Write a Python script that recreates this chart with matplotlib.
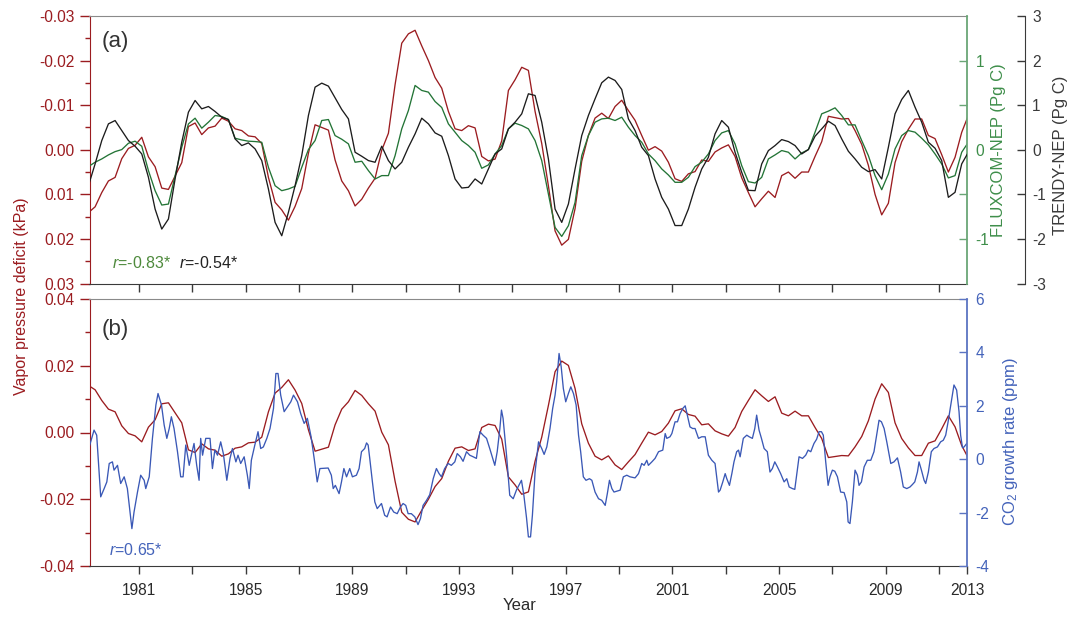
import numpy as np
import matplotlib
matplotlib.use('Agg')
import matplotlib.pyplot as plt
from matplotlib.ticker import FixedLocator, FuncFormatter

REG = 'Liberation Sans'
plt.rcParams['font.family'] = [REG, 'DejaVu Sans']
plt.rcParams['axes.unicode_minus'] = False
plt.rcParams['mathtext.fontset'] = 'custom'
plt.rcParams['mathtext.it'] = REG + ':italic'
plt.rcParams['mathtext.rm'] = REG

# ---------------- data ----------------
# quarterly time grid (decimal year)
years_q = np.round(1979.1 + 0.25 * np.arange(133), 3)

# Vapor pressure deficit anomaly (kPa)
vpd = [0.0141, 0.0128, 0.0096, 0.0070, 0.0062, 0.0020, -0.0003, -0.0010, -0.0028, 0.0016,
       0.0038, 0.0086, 0.0089, 0.0059, 0.0029, -0.0052, -0.0060, -0.0034, -0.0049, -0.0053,
       -0.0071, -0.0064, -0.0047, -0.0043, -0.0031, -0.0029, -0.0014, 0.0062, 0.0118, 0.0135,
       0.0158, 0.0127, 0.0087, 0.0008, -0.0056, -0.0050, -0.0044, 0.0023, 0.0070, 0.0092,
       0.0126, 0.0111, 0.0086, 0.0064, 0.0001, -0.0037, -0.0146, -0.0239, -0.0260, -0.0268,
       -0.0233, -0.0200, -0.0162, -0.0138, -0.0086, -0.0047, -0.0043, -0.0054, -0.0049, 0.0015,
       0.0025, 0.0021, -0.0020, -0.0133, -0.0157, -0.0185, -0.0178, -0.0086, -0.0014, 0.0081,
       0.0182, 0.0214, 0.0201, 0.0132, 0.0026, -0.0032, -0.0071, -0.0082, -0.0070, -0.0097,
       -0.0111, -0.0088, -0.0066, -0.0032, 0.0001, -0.0007, 0.0003, 0.0028, 0.0065, 0.0071,
       0.0054, 0.0049, 0.0023, 0.0026, 0.0005, -0.0004, -0.0011, 0.0015, 0.0063, 0.0096,
       0.0128, 0.0110, 0.0093, 0.0107, 0.0058, 0.0050, 0.0064, 0.0050, 0.0050, 0.0015,
       -0.0018, -0.0075, -0.0072, -0.0069, -0.0070, -0.0043, -0.0012, 0.0035, 0.0100, 0.0146,
       0.0120, 0.0029, -0.0018, -0.0046, -0.0069, -0.0069, -0.0032, -0.0025, 0.0011, 0.0050,
       0.0017, -0.0039, -0.0077]

# FLUXCOM-NEP anomaly (Pg C)
fluxcom = [-0.189, -0.140, -0.103, -0.058, -0.021, 0.002, 0.073, 0.096, 0.039, -0.234,
           -0.459, -0.620, -0.609, -0.290, 0.028, 0.290, 0.354, 0.242, 0.309, 0.384,
           0.373, 0.339, 0.129, 0.110, 0.096, 0.092, 0.084, -0.197, -0.403, -0.459,
           -0.440, -0.410, -0.197, 0.002, 0.103, 0.328, 0.339, 0.159, 0.118, 0.066,
           -0.140, -0.129, -0.234, -0.328, -0.290, -0.290, -0.066, 0.234, 0.440, 0.721,
           0.665, 0.646, 0.541, 0.474, 0.290, 0.197, 0.103, 0.047, -0.028, -0.208,
           -0.170, -0.047, 0.047, 0.234, 0.298, 0.272, 0.234, 0.103, -0.122, -0.496,
           -0.871, -0.972, -0.852, -0.590, -0.066, 0.159, 0.309, 0.346, 0.354, 0.328,
           0.365, 0.253, 0.159, 0.084, -0.047, -0.122, -0.215, -0.283, -0.365, -0.365,
           -0.309, -0.189, -0.140, -0.047, 0.103, 0.189, 0.215, 0.066, -0.178, -0.358,
           -0.373, -0.309, -0.103, -0.058, -0.009, -0.028, -0.103, -0.036, 0.002, 0.197,
           0.403, 0.433, 0.470, 0.384, 0.279, 0.279, 0.103, -0.066, -0.290, -0.448,
           -0.272, 0.009, 0.159, 0.215, 0.197, 0.129, 0.054, -0.047, -0.159, -0.316,
           -0.290, -0.028, 0.084]

# TRENDY-NEP anomaly (Pg C)
trendy = [-0.805, -0.318, 0.206, 0.581, 0.655, 0.431, 0.206, 0.079, -0.094, -0.618,
          -1.330, -1.779, -1.554, -0.655, 0.169, 0.843, 1.105, 0.918, 0.970, 0.858,
          0.730, 0.678, 0.243, 0.094, 0.154, 0.019, -0.243, -0.880, -1.629, -1.929,
          -1.404, -0.805, -0.131, 0.768, 1.404, 1.494, 1.427, 1.165, 0.903, 0.693,
          -0.056, -0.146, -0.243, -0.281, 0.079, -0.243, -0.431, -0.281, 0.056, 0.356,
          0.708, 0.581, 0.378, 0.303, -0.131, -0.655, -0.858, -0.843, -0.655, -0.768,
          -0.431, -0.094, 0.019, 0.468, 0.618, 0.805, 1.255, 1.217, 0.618, -0.206,
          -1.330, -1.629, -1.217, -0.431, 0.318, 0.768, 1.142, 1.502, 1.629, 1.554,
          1.352, 0.693, 0.431, 0.056, -0.131, -0.655, -1.067, -1.330, -1.700, -1.700,
          -1.330, -0.843, -0.431, -0.169, 0.356, 0.655, 0.506, -0.056, -0.506, -0.910,
          -0.918, -0.318, -0.019, 0.094, 0.228, 0.184, 0.094, -0.094, 0.004, 0.303,
          0.468, 0.640, 0.543, 0.243, -0.034, -0.206, -0.393, -0.491, -0.446, -0.655,
          0.056, 0.805, 1.127, 1.330, 0.955, 0.618, 0.169, 0.034, -0.243, -1.067,
          -0.955, -0.318, -0.056]

# CO2 growth rate (ppm), irregular sampling (decimal year)
co2_year = [1979.13, 1979.31, 1979.41, 1979.56, 1979.69, 1979.79, 1979.88, 1980.00, 1980.06, 1980.19,
            1980.31, 1980.44, 1980.56, 1980.73, 1980.81, 1980.94, 1981.06, 1981.19, 1981.25, 1981.38,
            1981.50, 1981.63, 1981.71, 1981.84, 1981.94, 1982.04, 1982.13, 1982.21, 1982.31, 1982.44,
            1982.56, 1982.65, 1982.75, 1982.88, 1982.96, 1983.06, 1983.16, 1983.25, 1983.31, 1983.38,
            1983.50, 1983.66, 1983.75, 1983.84, 1983.94, 1984.06, 1984.16, 1984.29, 1984.41, 1984.50,
            1984.63, 1984.71, 1984.81, 1984.94, 1985.06, 1985.13, 1985.21, 1985.34, 1985.46, 1985.56,
            1985.66, 1985.79, 1985.91, 1986.04, 1986.13, 1986.21, 1986.31, 1986.44, 1986.56, 1986.69,
            1986.79, 1986.94, 1987.06, 1987.19, 1987.31, 1987.45, 1987.57, 1987.68, 1987.78, 1988.09,
            1988.21, 1988.28, 1988.36, 1988.50, 1988.59, 1988.68, 1988.78, 1988.90, 1989.00, 1989.15,
            1989.25, 1989.34, 1989.46, 1989.53, 1989.59, 1989.65, 1989.75, 1989.84, 1989.93, 1990.09,
            1990.21, 1990.30, 1990.43, 1990.55, 1990.68, 1990.80, 1990.90, 1991.00, 1991.09, 1991.21,
            1991.34, 1991.46, 1991.55, 1991.65, 1991.78, 1991.90, 1992.03, 1992.15, 1992.25, 1992.34,
            1992.46, 1992.59, 1992.71, 1992.84, 1992.93, 1993.05, 1993.15, 1993.28, 1993.40, 1993.53,
            1993.65, 1993.78, 1993.90, 1994.03, 1994.15, 1994.34, 1994.43, 1994.53, 1994.59, 1994.65,
            1994.78, 1994.90, 1995.03, 1995.15, 1995.34, 1995.43, 1995.53, 1995.60, 1995.68, 1995.75,
            1995.85, 1995.98, 1996.10, 1996.19, 1996.29, 1996.41, 1996.51, 1996.60, 1996.66, 1996.75,
            1996.83, 1996.91, 1997.00, 1997.10, 1997.19, 1997.29, 1997.39, 1997.48, 1997.56, 1997.66,
            1997.76, 1997.89, 1997.98, 1998.10, 1998.23, 1998.35, 1998.48, 1998.56, 1998.64, 1998.73,
            1998.81, 1998.91, 1999.04, 1999.16, 1999.29, 1999.41, 1999.60, 1999.73, 1999.85, 1999.94,
            2000.04, 2000.10, 2000.23, 2000.35, 2000.48, 2000.64, 2000.73, 2000.79, 2000.91, 2000.98,
            2001.10, 2001.19, 2001.29, 2001.39, 2001.48, 2001.56, 2001.66, 2001.76, 2001.85, 2001.98,
            2002.10, 2002.23, 2002.35, 2002.48, 2002.60, 2002.73, 2002.79, 2002.89, 2002.98, 2003.04,
            2003.14, 2003.23, 2003.31, 2003.41, 2003.48, 2003.54, 2003.66, 2003.79, 2003.88, 2004.00,
            2004.09, 2004.16, 2004.25, 2004.34, 2004.44, 2004.56, 2004.66, 2004.75, 2004.84, 2004.94,
            2005.06, 2005.19, 2005.29, 2005.38, 2005.50, 2005.59, 2005.66, 2005.75, 2005.88, 2006.00,
            2006.09, 2006.19, 2006.31, 2006.41, 2006.50, 2006.59, 2006.66, 2006.75, 2006.84, 2006.91,
            2007.00, 2007.09, 2007.19, 2007.31, 2007.44, 2007.54, 2007.59, 2007.66, 2007.75, 2007.85,
            2007.94, 2008.00, 2008.09, 2008.19, 2008.31, 2008.44, 2008.56, 2008.66, 2008.75, 2008.84,
            2008.94, 2009.04, 2009.19, 2009.31, 2009.44, 2009.56, 2009.66, 2009.79, 2009.91, 2010.00,
            2010.09, 2010.19, 2010.25, 2010.34, 2010.44, 2010.50, 2010.60, 2010.71, 2010.81, 2010.94,
            2011.06, 2011.16, 2011.25, 2011.34, 2011.44, 2011.56, 2011.66, 2011.75, 2011.81, 2011.88,
            2011.94, 2012.04, 2012.09]
co2_rate = [0.46, 1.09, 0.90, -1.41, -1.10, -0.85, -0.16, -0.10, -0.41, -0.23,
            -0.91, -0.66, -1.10, -2.60, -1.98, -1.23, -0.60, -0.79, -1.10, -0.66,
            0.78, 2.03, 2.46, 2.03, 1.28, 0.78, 1.15, 1.59, 1.15, 0.28,
            -0.66, -0.66, 0.53, -0.23, 0.15, 0.59, -0.23, -0.79, 0.78, 0.15,
            0.78, 0.78, -0.35, 0.34, 0.15, 0.65, 0.21, -0.79, 0.03, 0.40,
            -0.10, 0.15, -0.16, 0.09, -0.60, -1.10, -0.04, 0.53, 1.03, 0.40,
            0.46, 0.78, 1.15, 1.90, 3.21, 3.21, 2.40, 1.78, 1.96, 2.15,
            2.40, 2.15, 1.71, 1.34, 1.53, 0.84, 0.00, -0.85, -0.35, -0.33,
            -0.60, -1.10, -0.98, -1.29, -0.85, -0.35, -0.66, -0.35, -0.66, -0.60,
            -0.35, 0.28, 0.40, 0.61, 0.53, 0.03, -0.85, -1.60, -1.85, -1.66,
            -2.10, -2.16, -1.79, -1.98, -2.04, -1.79, -1.66, -1.73, -2.04, -2.04,
            -2.16, -2.45, -2.23, -1.73, -1.54, -1.33, -0.73, -0.35, -0.54, -0.66,
            -0.35, -0.16, -0.23, -0.10, 0.21, 0.09, -0.08, 0.28, 0.15, 0.09,
            0.03, 1.03, 0.90, 0.78, 0.40, -0.23, 0.28, 1.15, 1.84, 1.53,
            0.15, -1.35, -1.48, -1.16, -0.79, -1.35, -2.20, -2.91, -2.91, -2.10,
            -0.48, 0.65, 0.40, 0.18, 0.46, 1.15, 1.90, 2.40, 2.90, 3.96,
            3.46, 2.65, 2.15, 2.46, 2.71, 2.46, 2.03, 0.90, 0.28, -0.66,
            -0.79, -0.73, -0.79, -1.23, -1.48, -1.54, -1.73, -1.29, -0.79, -1.10,
            -1.23, -1.20, -1.16, -0.66, -0.60, -0.66, -0.70, -0.54, -0.16, -0.23,
            -0.04, -0.23, -0.10, 0.03, 0.28, 0.34, 0.96, 0.78, 0.84, 0.96,
            1.40, 1.40, 1.71, 1.90, 2.00, 1.65, 1.21, 1.15, 1.15, 0.78,
            0.84, 0.84, 0.15, -0.04, -0.16, -1.23, -1.16, -0.85, -0.54, -0.73,
            -0.98, -0.54, -0.10, 0.28, 0.34, 0.09, 0.78, 0.90, 0.84, 0.78,
            1.15, 1.65, 1.09, 0.78, 0.40, 0.28, -0.48, -0.35, -0.10, -0.29,
            -0.54, -0.85, -0.73, -1.04, -1.10, -1.13, -0.60, 0.09, 0.03, 0.15,
            0.34, 0.28, 0.59, 0.75, 1.03, 1.03, 0.90, -0.10, -0.98, -0.66,
            -0.41, -0.45, -0.66, -1.23, -1.25, -1.60, -2.35, -2.41, -1.60, -0.41,
            -0.60, -0.98, -0.85, -0.29, -0.04, -0.04, 0.28, 0.90, 1.46, 1.40,
            1.15, 0.65, -0.16, -0.10, 0.05, -0.48, -1.04, -1.10, -1.04, -0.95,
            -0.85, -0.48, -0.10, -0.41, -0.79, -0.91, -0.48, 0.28, 0.40, 0.46,
            0.65, 0.71, 0.90, 1.40, 2.03, 2.78, 2.59, 1.78, 0.90, 0.43,
            0.46, 0.59, 0.53]

year_ticks = [1981, 1983, 1985, 1987, 1989, 1991, 1993, 1995, 1997, 1999, 2001, 2003, 2005, 2007, 2009, 2011]
year_labels = ['1981', '', '1985', '', '1989', '', '1993', '', '1997', '', '2001', '', '2005', '', '2009', '']
end_label = '2013'

# ---------------- style ----------------
RED = '#9B1C20'
GREEN = '#237436'
GREEN_TXT = '#3E8E4A'
GREEN_SPINE = '#6AA676'
BLACK = '#1C1C1C'
BLUE = '#3A58B6'
BLUE_TXT = '#4463BA'
BLUE_SPINE = '#5B74C2'
GRAY = '#8A8A8A'
DARK = '#3A3A3A'
LW = 0.95
TS = 11.2   # tick label size
LS = 12     # axis label size
RS = 11.5   # r-value text size

W, H = 1077, 617
fig = plt.figure(figsize=(W / 100, H / 100), dpi=100)

def fx(p):
    return p / W

def fy(p):
    return 1 - p / H

XL, XR = 89.5, 967.3
XMIN, XMAX = 1979.14, 2012.06

axA = fig.add_axes([fx(XL), fy(283.5), fx(XR) - fx(XL), fy(16) - fy(283.5)])
axB = fig.add_axes([fx(XL), fy(566), fx(XR) - fx(XL), fy(299) - fy(566)])

vpd_fmt = FuncFormatter(lambda v, p: ('%.2f' % v).replace('-0.00', '0.00'))

# ----- panel (a) -----
axA.plot(years_q, vpd, color=RED, lw=LW)
axA.set_xlim(XMIN, XMAX)
axA.set_ylim(0.03, -0.03)
axA.yaxis.set_major_locator(FixedLocator([-0.03, -0.02, -0.01, 0.0, 0.01, 0.02, 0.03]))
axA.yaxis.set_minor_locator(FixedLocator([-0.025, -0.015, -0.005, 0.005, 0.015, 0.025]))
axA.yaxis.set_major_formatter(vpd_fmt)
axA.tick_params(axis='y', which='major', direction='out', length=7, width=1, color=RED,
                labelcolor=RED, labelsize=TS, pad=4)
axA.tick_params(axis='y', which='minor', direction='out', length=3.5, width=1, color=RED)
axA.set_xticks(year_ticks)
axA.set_xticklabels([])
axA.tick_params(axis='x', direction='out', length=6, width=1, color=DARK)
axA.spines['left'].set_color(RED)
axA.spines['top'].set_color(GRAY)
axA.spines['bottom'].set_color(DARK)
axA.spines['right'].set_visible(False)

axF = axA.twinx()
axF.plot(years_q, fluxcom, color=GREEN, lw=LW)
axF.set_ylim(-1.5, 1.5)
axF.set_yticks([-1, -0.5, 0, 0.5, 1])
axF.set_yticklabels(['-1', '', '0', '', '1'])
axF.tick_params(axis='y', direction='in', length=6, width=1, color=GREEN_SPINE,
                labelcolor=GREEN_TXT, labelsize=TS, pad=6)
axF.yaxis.get_major_ticks()[2].tick2line.set_visible(False)
for k in ['left', 'top', 'bottom']:
    axF.spines[k].set_visible(False)
axF.spines['right'].set_color(GREEN_SPINE)
axF.spines['right'].set_linewidth(1.3)
axF.set_xlim(XMIN, XMAX)

axT = axA.twinx()
axT.plot(years_q, trendy, color=BLACK, lw=LW)
axT.set_ylim(-3, 3)
axT.set_yticks([-3, -2, -1, 0, 1, 2, 3])
axT.spines['right'].set_position(('axes', 1 + 58 / (XR - XL)))
for k in ['left', 'top', 'bottom']:
    axT.spines[k].set_visible(False)
axT.spines['right'].set_color(DARK)
axT.tick_params(axis='y', direction='in', length=6, width=1, color=DARK,
                labelcolor=DARK, labelsize=TS, pad=5)
axT.set_xlim(XMIN, XMAX)

# ----- panel (b) -----
axB.plot(years_q, vpd, color=RED, lw=LW)
axB.set_xlim(XMIN, XMAX)
axB.set_ylim(-0.04, 0.04)
axB.yaxis.set_major_locator(FixedLocator([-0.04, -0.02, 0.0, 0.02, 0.04]))
axB.yaxis.set_minor_locator(FixedLocator([-0.03, -0.01, 0.01, 0.03]))
axB.yaxis.set_major_formatter(vpd_fmt)
axB.tick_params(axis='y', which='major', direction='out', length=7, width=1, color=RED,
                labelcolor=RED, labelsize=TS, pad=4)
axB.tick_params(axis='y', which='minor', direction='out', length=3.5, width=1, color=RED)
axB.set_xticks(year_ticks + [XMAX])
axB.set_xticklabels(year_labels + [end_label])
axB.tick_params(axis='x', direction='out', length=6, width=1, color=DARK,
                labelcolor='#2A2A2A', labelsize=TS, pad=6)
axB.spines['left'].set_color(RED)
axB.spines['top'].set_color(GRAY)
axB.spines['bottom'].set_color(DARK)
axB.spines['right'].set_visible(False)

axC = axB.twinx()
axC.plot(co2_year, co2_rate, color=BLUE, lw=LW)
axC.set_ylim(-4, 6)
axC.set_yticks([-4, -2, 0, 2, 4, 6])
axC.tick_params(axis='y', direction='in', length=6, width=1, color=BLUE_SPINE,
                labelcolor=BLUE_TXT, labelsize=TS, pad=6)
for k in ['left', 'top', 'bottom']:
    axC.spines[k].set_visible(False)
axC.spines['right'].set_color(BLUE_SPINE)
axC.spines['right'].set_linewidth(1.3)
axC.set_xlim(XMIN, XMAX)

# ----- texts -----
fig.text(fx(102), fy(41), '(a)', fontsize=16, color='#333333', va='center', ha='left')
fig.text(fx(102), fy(329), '(b)', fontsize=16, color='#333333', va='center', ha='left')
fig.text(fx(112), fy(263), r'$\mathit{r}$=-0.83*', fontsize=RS, color='#4E8A3C',
         va='center', ha='left')
fig.text(fx(179), fy(263), r'$\mathit{r}$=-0.54*', fontsize=RS, color='#222222',
         va='center', ha='left')
fig.text(fx(109), fy(550), r'$\mathit{r}$=0.65*', fontsize=RS, color=BLUE_TXT,
         va='center', ha='left')

fig.text(fx(22), fy(296), 'Vapor pressure deficit (kPa)', rotation=90, fontsize=11.5,
         color=RED, ha='center', va='center')
fig.text(fx(999), fy(150), 'FLUXCOM-NEP (Pg C)', rotation=90, fontsize=LS,
         color=GREEN_TXT, ha='center', va='center')
fig.text(fx(1060), fy(155), 'TRENDY-NEP (Pg C)', rotation=90, fontsize=LS,
         color=DARK, ha='center', va='center')
fig.text(fx(1010), fy(442), r'CO$_2$ growth rate (ppm)', rotation=90, fontsize=LS,
         color=BLUE_TXT, ha='center', va='center')
fig.text(fx(520), fy(606), 'Year', fontsize=LS, color='#2A2A2A', ha='center', va='center')

fig.savefig('out.png', dpi=100)
